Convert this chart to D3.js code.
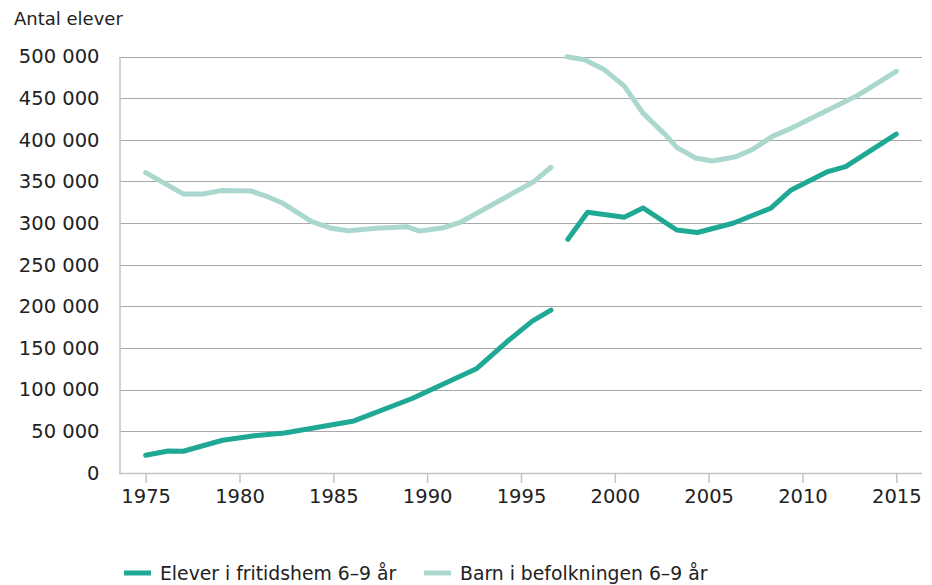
<!DOCTYPE html>
<html lang="sv">
<head>
<meta charset="utf-8">
<title>Antal elever</title>
<script src="https://cdnjs.cloudflare.com/ajax/libs/d3/7.8.5/d3.min.js"></script>
<style>
  body { margin: 0; background: #fff; }
  text { font-family: "DejaVu Sans", sans-serif; fill: #222; }
</style>
</head>
<body>
<script>
// ---- data (null = break in the series) ----
const elevYears = [1975, 1976.2, 1977, 1979.1, 1980.7, 1982.4, 1984.1, 1986.1, 1989.2, 1992.65, 1994.25, 1995.6, 1996.6,
                   1997,
                   1997.5, 1998.55, 2000.5, 2001.5, 2003.3, 2004.4, 2006.3, 2008.3, 2009.4, 2011.3, 2012.3, 2015];
const elevValues = [21300, 26400, 26100, 39300, 44500, 48100, 54600, 62500, 89400, 125500, 157500, 182300, 195600,
                    null,
                    280500, 313000, 307000, 318200, 291700, 288700, 299800, 317800, 339800, 361400, 367800, 406900];

const barnYears = [1975, 1977, 1978.05, 1979, 1980.6, 1981.5, 1982.25, 1983.85, 1984.9, 1985.8, 1987.3, 1988.9, 1989.6, 1990.8, 1991.8, 1995.7, 1996.6,
                   1997,
                   1997.45, 1998.4, 1999.45, 2000.5, 2001.5, 2002.7, 2003.3, 2004.3, 2005.2, 2006.4, 2007.3, 2008.4, 2009.4, 2011.2, 2012.9, 2015];
const barnValues = [360600, 335000, 335000, 339000, 338600, 331700, 324500, 301700, 293800, 290900, 293800, 295700, 290500, 294100, 301300, 350000, 367000,
                    null,
                    499700, 496000, 484000, 464800, 432000, 405900, 390900, 378200, 374600, 379400, 387900, 404100, 413900, 434100, 452800, 482200];

const yTicks = [0, 50000, 100000, 150000, 200000, 250000, 300000, 350000, 400000, 450000, 500000];
const xTicks = [1975, 1980, 1985, 1990, 1995, 2000, 2005, 2010, 2015];
const seriesNames = ["Elever i fritidshem 6–9 år", "Barn i befolkningen 6–9 år"];
const seriesColors = ["#1fa995", "#abd8ce"];

const width = 932, height = 585;

const svg = d3.select("body").append("svg")
  .attr("width", width)
  .attr("height", height);

const x = d3.scaleLinear().domain([1973.58, 2016.37]).range([119, 922]);
const y = d3.scaleLinear().domain([0, 500000]).range([473, 56.5]);

const fmt = v => d3.format(",")(v).replace(/,/g, " ");

// gridlines
svg.append("g")
  .selectAll("line")
  .data(yTicks.slice(1))
  .join("line")
  .attr("x1", 119).attr("x2", 922)
  .attr("y1", d => Math.round(y(d)) + 0.5)
  .attr("y2", d => Math.round(y(d)) + 0.5)
  .attr("stroke", "#a8a8a8")
  .attr("stroke-width", 1);

// y axis
const yAxis = svg.append("g")
  .attr("transform", "translate(119.5,0)")
  .call(d3.axisLeft(y).tickValues(yTicks).tickSize(0).tickPadding(20).tickFormat(fmt));
yAxis.select(".domain").attr("stroke", "#c4c4c4").attr("stroke-width", 1.5);
yAxis.selectAll("text")
  .style("font-family", "DejaVu Sans, sans-serif")
  .style("font-size", "19.5px")
  .attr("fill", "#222");

// x axis
const xAxis = svg.append("g")
  .attr("transform", "translate(0,473)")
  .call(d3.axisBottom(x).tickValues(xTicks).tickSize(10).tickPadding(6).tickFormat(d3.format("d")));
xAxis.select(".domain").attr("stroke", "#c4c4c4").attr("stroke-width", 1.5).attr("d", "M119,0.5H922");
xAxis.selectAll(".tick line").attr("stroke", "#c4c4c4").attr("stroke-width", 1.5);
xAxis.selectAll("text")
  .style("font-family", "DejaVu Sans, sans-serif")
  .style("font-size", "19.5px")
  .attr("fill", "#222");

// axis title
svg.append("text")
  .attr("x", 14).attr("y", 25)
  .style("font-size", "18px")
  .text("Antal elever");

// lines
const line = d3.line()
  .defined(d => d[1] !== null)
  .x(d => x(d[0]))
  .y(d => y(d[1]));

const series = [
  d3.zip(barnYears, barnValues),
  d3.zip(elevYears, elevValues)
];
const colorsInOrder = [seriesColors[1], seriesColors[0]];

svg.append("g")
  .selectAll("path")
  .data(series)
  .join("path")
  .attr("d", line)
  .attr("fill", "none")
  .attr("stroke", (d, i) => colorsInOrder[i])
  .attr("stroke-width", 5)
  .attr("stroke-linecap", "round")
  .attr("stroke-linejoin", "round");

// legend
const legendX = [124, 424];
const legend = svg.append("g")
  .selectAll("g")
  .data(seriesNames)
  .join("g")
  .attr("transform", (d, i) => `translate(${legendX[i]},573)`);
legend.append("line")
  .attr("x1", 0).attr("x2", 27)
  .attr("stroke", (d, i) => seriesColors[i])
  .attr("stroke-width", 5);
legend.append("text")
  .attr("x", 36).attr("y", 7)
  .style("font-size", "18.8px")
  .text(d => d);
</script>
</body>
</html>
